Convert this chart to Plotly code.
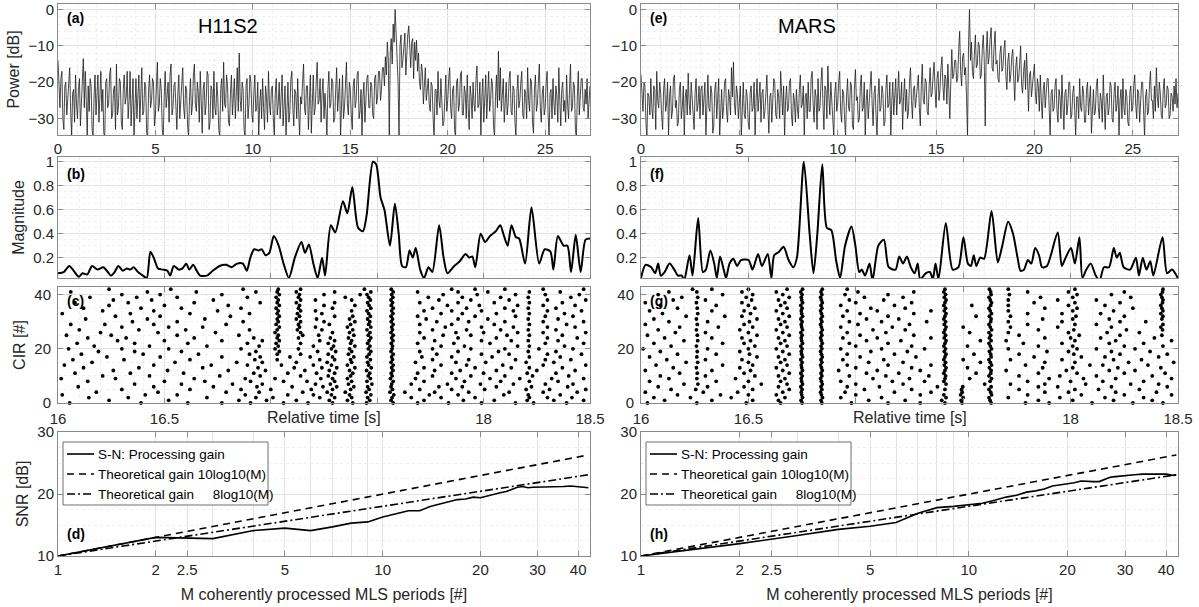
import numpy as np
import plotly.graph_objects as go

# ---------------- DATA ----------------
FREQ_STEP = 0.05  # spectrum sample spacing (x units of panels a/e)

POWER_A = [
    -14, -24, -27, -19, -17, -30, -33, -21, -20, -29, -25, -18, -16, -28, -35, -23, -22, -31, -18, -26,
    -30, -22, -19, -32, -24, -20, -13.5, -27, -17, -25, -35, -21, -28, -19, -21, -33, -35, -24, -18, -29,
    -24, -18, -31, -23, -17, -28, -22, -34, -35, -20, -19, -27, -26, -18, -16, -30, -29, -22, -21, -33,
    -15, -29, -27, -19, -20, -31, -33, -22, -18, -26, -24, -17, -30, -25, -17, -32, -26, -19, -35, -23,
    -19, -30, -23, -18, -31, -25, -16, -29, -28, -20, -21, -34, -35, -22, -18, -27, -25, -19, -20, -32,
    -29, -21, -14.5, -28, -26, -19, -22, -33, -35, -24, -17, -27, -24, -20, -31, -18, -15, -29, -27, -21,
    -20, -28, -33, -23, -18, -30, -25, -19, -16, -27, -30, -21, -22, -32, -35, -24, -19, -29, -26, -18,
    -15, -26, -28, -20, -23, -31, -17, -25, -34, -22, -20, -29, -26, -17, -18, -33, -31, -21, -22, -30,
    -17, -27, -29, -20, -24, -33, -35, -22, -19, -28, -14.5, -26, -27, -18, -21, -31, -32, -23, -18, -29,
    -25, -19, -30, -24, -16, -28, -12, -25, -28, -20, -22, -33, -35, -21, -19, -30, -26, -18, -20, -29,
    -31, -23, -18, -28, -27, -20, -35, -26, -22, -30, -19, -27, -33, -21, -24, -31, -17, -26, -29, -22,
    -21, -30, -35, -23, -19, -29, -26, -20, -30, -24, -18, -32, -25, -21, -35, -27, -20, -31, -28, -19,
    -17, -27, -32, -22, -23, -30, -19, -28, -35, -24, -26, -20, -15, -27, -29, -21, -21, -33, -24, -18,
    -34, -24, -18, -29, -27, -20, -14.5, -26, -25, -19, -31, -23, -19, -30, -23, -28, -35, -22, -17, -27,
    -26, -19, -20, -31, -30, -22, -16, -28, -24, -19, -35, -25, -18, -30, -27, -21, -14.5, -26, -29, -20,
    -22, -29, -33, -21, -19, -27, -25, -18, -17, -30, -28, -22, -35, -24, -20, -31, -24, -19, -18, -27,
    -27, -20, -21, -29, -30, -19, -18, -26, -24, -17, -17, -25, -22, -16, -16, -21, -13, -18, -9, -14,
    -35, -12, -8, -15, -4, -9, 0, -6, -12, -20, -35, -10, -7, -16, -14, -8, -6.5, -18, -10, -7,
    -4.5, -13, -16, -9, -8, -19, -9, -14, -8.5, -17, -12, -20, -22, -15, -17, -26, -20, -16, -25, -21,
    -19, -26, -28, -20, -21, -30, -35, -22, -22, -29, -17, -25, -27, -19, -24, -32, -31, -23, -18, -28,
    -25, -19, -16, -27, -30, -22, -21, -33, -35, -20, -19, -28, -26, -18, -17, -29, -29, -21, -23, -30,
    -18, -27, -33, -21, -24, -30, -20, -26, -28, -19, -15.5, -27, -26, -20, -35, -24, -19, -31, -23, -18,
    -30, -22, -17, -28, -25, -19, -21, -32, -35, -24, -18, -27, -11.5, -25, -16, -28, -24, -19, -31, -23,
    -20, -29, -26, -19, -17, -28, -29, -21, -22, -31, -35, -23, -18, -27, -25, -20, -17, -29, -30, -22,
    -23, -30, -16, -25, -28, -19, -20, -31, -34, -22, -18, -28, -26, -20, -15, -27, -31, -23, -21, -29,
    -27, -20, -17, -29, -35, -23, -22, -30, -19, -26, -29, -21, -24, -31, -16, -25, -32, -22, -20, -28,
    -25, -31, -18, -26, -30, -22, -15, -28, -27, -20, -21, -33, -35, -24, -17, -29, -24, -19, -19, -27,
    -28, -22, -26, -19, -30, -24, -21,
]

POWER_E = [
    -18, -26, -28, -20, -21, -31, -35, -23, -24, -29, -19, -27, -30, -21, -22, -33, -17, -25, -27, -20,
    -23, -29, -33, -22, -19, -28, -26, -20, -35, -24, -21, -30, -28, -19, -18, -27, -25, -32, -31, -22,
    -20, -30, -27, -21, -35, -24, -22, -29, -17.5, -26, -29, -20, -24, -31, -33, -23, -19, -28, -26, -21,
    -30, -22, -21, -29, -25, -20, -35, -26, -18, -27, -28, -21, -23, -34, -32, -22, -20, -30, -26, -19,
    -35, -25, -22, -30, -27, -20, -19, -28, -31, -22, -24, -29, -16, -24, -14.5, -26, -29, -21, -23, -30,
    -26, -21, -35, -24, -20, -29, -30, -22, -24, -31, -33, -23, -21, -28, -27, -20, -35, -25, -19, -28,
    -25, -20, -31, -23, -22, -30, -28, -21, -18, -27, -34, -24, -23, -31, -26, -19, -20, -29, -30, -22,
    -24, -30, -17, -26, -29, -21, -35, -25, -21, -28, -27, -20, -19, -29, -32, -23, -25, -31, -22, -27,
    -30, -22, -18, -27, -26, -21, -35, -24, -23, -30, -20, -28, -28, -19, -17, -26, -31, -22, -24, -33,
    -19, -28, -27, -20, -16, -26, -33, -21, -22, -30, -15.5, -24, -29, -20, -25, -31, -35, -23, -20, -28,
    -26, -20, -17, -28, -31, -22, -23, -30, -35, -24, -19, -27, -28, -20, -21, -32, -33, -22, -16.5, -25,
    -24, -31, -30, -21, -18, -28, -27, -20, -35, -25, -22, -30, -25, -19, -17, -26, -32, -23, -21, -29,
    -35, -24, -19, -28, -27, -21, -23, -32, -31, -22, -18, -27, -26, -20, -35, -25, -20, -29, -24, -19,
    -29, -22, -17, -26, -25, -20, -33, -24, -19, -28, -22, -30, -28, -20, -16, -25, -30, -22, -21, -27,
    -24, -20, -18, -27, -32, -21, -15, -25, -26, -19, -20, -28, -29, -21, -16, -24, -23, -18, -14.5, -22,
    -27, -19, -17, -25, -22, -16, -13, -21, -25, -18, -19, -26, -15, -22, -30, -20, -11, -19, -18, -14,
    -14, -20, -19, -11, -6, -17, -21, -13, -12, -18, -16, -24, -35, -10, 0, -14, -9, -17, -19, -12,
    -7, -16, -15, -9, -10, -19, -18, -11, -7, -14, -32, -12, -6, -15, -13, -8, -5, -16, -17, -10,
    -6, -15, -14, -19, -20, -12, -10, -17, -16, -11, -8.5, -18, -22, -14, -12, -20, -18, -13, -11, -19,
    -25, -16, -13, -20, -19, -15, -10, -21, -23, -17, -14, -22, -12, -19, -28, -18, -17, -24, -20, -16,
    -15, -23, -26, -19, -21, -28, -18, -25, -30, -22, -20, -27, -24, -19, -19, -29, -35, -23, -22, -28,
    -27, -21, -19, -28, -31, -22, -24, -30, -18, -26, -33, -23, -22, -29, -26, -20, -20, -30, -29, -23,
    -21, -28, -35, -24, -24, -30, -19, -27, -28, -21, -23, -31, -31, -22, -20, -29, -26, -21, -34, -25,
    -22, -29, -28, -21, -19, -27, -30, -23, -25, -31, -18, -26, -33, -24, -23, -29, -27, -20, -21, -30,
    -31, -23, -20, -28, -26, -21, -35, -25, -22, -30, -19, -27, -29, -22, -24, -31, -32, -23, -21, -28,
    -27, -21, -18, -26, -30, -22, -23, -31, -26, -20, -20, -28, -35, -24, -22, -29, -28, -21, -17, -25,
    -25, -30, -21, -28, -16, -24, -27, -20, -23, -29, -30, -22, -19, -27, -26, -21, -22, -30, -29, -23,
    -24, -28, -21, -26, -19, -27, -23,
]

# magnitude (b): relative time [s], magnitude
MAG_B_T = [16.000, 16.027, 16.053, 16.074, 16.098, 16.115, 16.138, 16.160, 16.186, 16.213,
           16.234, 16.248, 16.266, 16.284, 16.305, 16.323, 16.340, 16.355, 16.376, 16.399,
           16.417, 16.434, 16.452, 16.470, 16.493, 16.514, 16.527, 16.544, 16.567, 16.585,
           16.603, 16.617, 16.635, 16.652, 16.668, 16.700, 16.727, 16.759, 16.789, 16.816,
           16.842, 16.869, 16.887, 16.904, 16.922, 16.943, 16.957, 16.975, 16.993, 17.014,
           17.037, 17.060, 17.085, 17.113, 17.144, 17.161, 17.179, 17.200, 17.220, 17.241,
           17.255, 17.282, 17.303, 17.339, 17.360, 17.383, 17.410, 17.433, 17.450, 17.480,
           17.495, 17.516, 17.534, 17.560, 17.583, 17.601, 17.617, 17.635, 17.652, 17.667,
           17.681, 17.702, 17.720, 17.741, 17.759, 17.791, 17.812, 17.830, 17.862, 17.888,
           17.915, 17.933, 17.947, 17.961, 17.986, 18.007, 18.030, 18.057, 18.078, 18.096,
           18.113, 18.131, 18.152, 18.167, 18.195, 18.225, 18.261, 18.287, 18.314, 18.328,
           18.349, 18.376, 18.394, 18.411, 18.433, 18.456, 18.479, 18.500]
MAG_B_V = [0.07, 0.08, 0.13, 0.09, 0.04, 0.07, 0.06, 0.13, 0.10, 0.12,
           0.08, 0.05, 0.08, 0.13, 0.09, 0.11, 0.10, 0.12, 0.08, 0.05,
           0.03, 0.25, 0.19, 0.11, 0.10, 0.09, 0.05, 0.13, 0.10, 0.11,
           0.15, 0.10, 0.14, 0.09, 0.05, 0.05, 0.09, 0.13, 0.14, 0.12,
           0.15, 0.15, 0.09, 0.20, 0.27, 0.26, 0.27, 0.22, 0.24, 0.38,
           0.30, 0.15, 0.03, 0.20, 0.33, 0.24, 0.31, 0.15, 0.03, 0.20,
           0.05, 0.47, 0.41, 0.67, 0.57, 0.79, 0.45, 0.42, 0.55, 1.00,
           0.98, 0.70, 0.60, 0.30, 0.65, 0.40, 0.13, 0.12, 0.26, 0.20,
           0.28, 0.10, 0.03, 0.12, 0.08, 0.47, 0.20, 0.07, 0.13, 0.17,
           0.23, 0.20, 0.21, 0.12, 0.40, 0.33, 0.38, 0.42, 0.47, 0.38,
           0.30, 0.47, 0.37, 0.36, 0.15, 0.62, 0.15, 0.27, 0.25, 0.10,
           0.38, 0.30, 0.30, 0.08, 0.39, 0.08, 0.35, 0.36]

# magnitude (f)
MAG_F_T = [16.000, 16.021, 16.048, 16.066, 16.080, 16.092, 16.110, 16.133, 16.155, 16.172,
           16.190, 16.201, 16.226, 16.240, 16.266, 16.288, 16.302, 16.323, 16.341, 16.353,
           16.368, 16.385, 16.396, 16.412, 16.430, 16.448, 16.465, 16.501, 16.519, 16.545,
           16.563, 16.590, 16.607, 16.620, 16.643, 16.664, 16.687, 16.709, 16.726, 16.758,
           16.785, 16.803, 16.821, 16.844, 16.865, 16.886, 16.909, 16.927, 16.950, 16.980,
           16.998, 17.016, 17.028, 17.043, 17.064, 17.078, 17.105, 17.131, 17.153, 17.185,
           17.202, 17.220, 17.238, 17.256, 17.274, 17.288, 17.300, 17.327, 17.345, 17.359,
           17.371, 17.385, 17.419, 17.451, 17.478, 17.501, 17.522, 17.536, 17.549, 17.561,
           17.579, 17.597, 17.632, 17.661, 17.682, 17.709, 17.732, 17.753, 17.767, 17.783,
           17.801, 17.817, 17.835, 17.853, 17.867, 17.890, 17.940, 17.959, 17.977, 18.002,
           18.020, 18.041, 18.055, 18.073, 18.094, 18.117, 18.135, 18.155, 18.179, 18.201,
           18.215, 18.229, 18.247, 18.277, 18.304, 18.318, 18.336, 18.353, 18.371, 18.385,
           18.428, 18.449, 18.472, 18.499]
MAG_F_V = [0.03, 0.14, 0.12, 0.07, 0.15, 0.05, 0.08, 0.15, 0.10, 0.05,
           0.05, 0.01, 0.22, 0.05, 0.53, 0.08, 0.10, 0.26, 0.15, 0.03,
           0.21, 0.10, 0.03, 0.15, 0.19, 0.13, 0.18, 0.18, 0.10, 0.23,
           0.13, 0.23, 0.03, 0.22, 0.25, 0.29, 0.18, 0.12, 0.20, 1.00,
           0.40, 0.07, 0.40, 0.98, 0.45, 0.43, 0.17, 0.03, 0.30, 0.46,
           0.30, 0.08, 0.10, 0.05, 0.15, 0.01, 0.30, 0.35, 0.12, 0.10,
           0.21, 0.15, 0.21, 0.12, 0.07, 0.15, 0.02, 0.07, 0.08, 0.02,
           0.15, 0.02, 0.49, 0.10, 0.12, 0.37, 0.15, 0.13, 0.22, 0.13,
           0.20, 0.19, 0.59, 0.16, 0.30, 0.50, 0.40, 0.20, 0.09, 0.10,
           0.18, 0.15, 0.28, 0.22, 0.12, 0.13, 0.41, 0.13, 0.20, 0.28,
           0.15, 0.37, 0.03, 0.10, 0.15, 0.05, 0.01, 0.12, 0.12, 0.28,
           0.20, 0.24, 0.12, 0.10, 0.20, 0.05, 0.20, 0.10, 0.17, 0.05,
           0.37, 0.07, 0.10, 0.03]

# CIR peak times (ms after 16 s), one list per CIR index 0..42
CIR_C_MS = [
    [55, 390, 610, 770, 905, 1060, 1175, 1290, 1385, 1450, 1575, 1690, 1835, 1990, 2150, 2235, 2390],
    [240, 520, 850, 980, 1120, 1275, 1360, 1465, 1565, 1720, 1905, 2050, 2205, 2330, 2470],
    [145, 330, 700, 930, 1010, 1230, 1300, 1380, 1455, 1570, 1660, 1800, 1960, 2215, 2300, 2415],
    [20, 410, 560, 880, 1080, 1200, 1285, 1370, 1470, 1578, 1745, 1880, 2095, 2210, 2360],
    [180, 470, 790, 945, 1150, 1265, 1350, 1448, 1560, 1630, 1770, 1930, 2120, 2280, 2440],
    [300, 620, 860, 1000, 1190, 1290, 1375, 1462, 1572, 1700, 1850, 2005, 2200, 2310, 2480],
    [95, 450, 730, 935, 1100, 1245, 1310, 1390, 1455, 1565, 1790, 1900, 2060, 2225, 2395],
    [360, 580, 820, 960, 1210, 1280, 1365, 1475, 1568, 1660, 1830, 1985, 2140, 2290, 2420],
    [140, 500, 690, 905, 1060, 1170, 1300, 1380, 1452, 1575, 1720, 1910, 2080, 2215, 2350],
    [15, 270, 640, 880, 1020, 1235, 1290, 1360, 1468, 1562, 1680, 1870, 2030, 2170, 2320, 2470],
    [210, 430, 760, 950, 1140, 1270, 1375, 1458, 1570, 1760, 1940, 2100, 2230, 2400],
    [80, 340, 590, 920, 1080, 1215, 1300, 1385, 1465, 1566, 1690, 1850, 2000, 2205, 2340],
    [260, 515, 800, 975, 1160, 1275, 1370, 1450, 1574, 1770, 1890, 2060, 2250, 2430],
    [120, 380, 680, 940, 1110, 1240, 1310, 1395, 1472, 1568, 1720, 1960, 2130, 2215, 2370],
    [30, 450, 720, 890, 1050, 1200, 1285, 1360, 1460, 1575, 1800, 1920, 2090, 2280, 2480],
    [160, 550, 840, 960, 1120, 1265, 1380, 1455, 1565, 1680, 1870, 2010, 2200, 2330],
    [70, 310, 620, 925, 1030, 1230, 1300, 1375, 1468, 1572, 1760, 1930, 2150, 2290, 2410],
    [230, 480, 770, 950, 1090, 1185, 1290, 1390, 1452, 1568, 1710, 1850, 2040, 2215, 2360],
    [110, 400, 660, 900, 1030, 1140, 1270, 1365, 1462, 1575, 1780, 1990, 2120, 2300, 2460],
    [190, 360, 580, 930, 1040, 1220, 1305, 1380, 1470, 1565, 1700, 1880, 2070, 2210, 2340],
    [50, 300, 520, 860, 1020, 1130, 1285, 1370, 1458, 1570, 1760, 1940, 2100, 2260, 2420],
    [170, 430, 700, 945, 1035, 1200, 1295, 1395, 1466, 1572, 1800, 1910, 2160, 2215, 2380],
    [90, 360, 610, 890, 1025, 1140, 1270, 1375, 1455, 1566, 1690, 1860, 2030, 2290, 2470],
    [280, 500, 770, 960, 1040, 1230, 1300, 1380, 1462, 1574, 1770, 1990, 2130, 2210, 2350],
    [140, 320, 640, 920, 1030, 1130, 1280, 1365, 1470, 1568, 1720, 1880, 2060, 2300, 2440],
    [40, 250, 560, 850, 1035, 1150, 1225, 1390, 1458, 1575, 1810, 1940, 2110, 2215, 2370],
    [200, 470, 740, 1020, 1140, 1290, 1370, 1466, 1565, 1700, 1870, 2000, 2160, 2280, 2480],
    [100, 380, 600, 900, 1030, 1125, 1240, 1385, 1452, 1572, 1760, 1920, 2080, 2210, 2340],
    [300, 520, 680, 1040, 1135, 1210, 1360, 1470, 1568, 1820, 1990, 2140, 2300, 2430],
    [60, 220, 450, 790, 1025, 1130, 1275, 1375, 1460, 1575, 1700, 1850, 2050, 2215, 2390],
    [350, 560, 870, 1035, 1140, 1250, 1395, 1465, 1566, 1780, 1930, 2100, 2280, 2470],
    [130, 420, 690, 1030, 1120, 1215, 1370, 1455, 1572, 1730, 1880, 2020, 2210, 2350],
    [270, 480, 810, 1040, 1135, 1300, 1385, 1468, 1565, 1690, 1960, 2150, 2290, 2420],
    [20, 340, 620, 900, 1030, 1125, 1240, 1460, 1574, 1800, 1900, 2060, 2215, 2380],
    [210, 450, 750, 1035, 1140, 1210, 1380, 1452, 1568, 1720, 1850, 1990, 2140, 2300, 2460],
    [120, 390, 580, 860, 1025, 1130, 1290, 1470, 1575, 1760, 1920, 2100, 2210, 2340],
    [240, 500, 800, 1040, 1135, 1250, 1395, 1462, 1566, 1830, 1980, 2160, 2280, 2430],
    [80, 330, 640, 950, 1030, 1120, 1300, 1455, 1572, 1700, 1880, 2050, 2215, 2370],
    [260, 440, 730, 1035, 1140, 1210, 1380, 1468, 1565, 1790, 1940, 2120, 2300, 2480],
    [150, 370, 560, 890, 1025, 1130, 1350, 1460, 1574, 1740, 1900, 2080, 2210, 2410],
    [300, 480, 770, 1040, 1135, 1250, 1420, 1452, 1568, 1810, 1970, 2150, 2290, 2450],
    [60, 420, 650, 930, 1030, 1120, 1300, 1470, 1575, 1690, 1880, 2020, 2215, 2360],
    [240, 530, 870, 1035, 1140, 1440, 1566, 1850, 1960, 2100, 2280, 2470],
]

CIR_G_MS = [
    [30, 260, 490, 650, 750, 842, 980, 1150, 1300, 1415, 1495, 1630, 1790, 1900, 2100, 2290, 2430],
    [110, 330, 520, 640, 745, 838, 1060, 1230, 1400, 1490, 1625, 1850, 2010, 2200, 2380],
    [60, 230, 420, 670, 752, 845, 930, 1120, 1420, 1500, 1620, 1710, 1950, 2160, 2340],
    [170, 370, 500, 630, 748, 840, 1000, 1300, 1410, 1488, 1632, 1800, 2050, 2250, 2470],
    [20, 290, 450, 660, 746, 836, 950, 1180, 1350, 1495, 1628, 1880, 1990, 2210, 2400],
    [140, 255, 520, 690, 750, 842, 1040, 1260, 1415, 1492, 1620, 1760, 2020, 2130, 2320],
    [80, 310, 480, 640, 744, 838, 960, 1110, 1380, 1498, 1630, 1850, 1940, 2190, 2450],
    [200, 265, 560, 680, 752, 844, 1000, 1220, 1420, 1600, 1720, 1880, 2070, 2280, 2410],
    [40, 350, 500, 650, 748, 840, 930, 1170, 1320, 1410, 1625, 1800, 2000, 2150, 2340],
    [130, 260, 440, 670, 746, 836, 1080, 1250, 1415, 1530, 1632, 1900, 2060, 2210, 2470],
    [90, 300, 530, 640, 750, 842, 970, 1140, 1340, 1418, 1620, 1760, 1950, 2120, 2380],
    [180, 262, 480, 690, 744, 838, 1050, 1200, 1410, 1560, 1628, 1850, 2030, 2250, 2440],
    [20, 330, 510, 660, 752, 844, 920, 1100, 1300, 1415, 1630, 1700, 1980, 2180, 2300],
    [150, 258, 460, 630, 748, 840, 1000, 1260, 1420, 1520, 1622, 1870, 2010, 2220, 2420],
    [70, 380, 520, 680, 746, 836, 960, 1150, 1350, 1412, 1632, 1790, 2090, 2150, 2360],
    [210, 264, 500, 650, 750, 842, 1060, 1220, 1418, 1580, 1626, 1880, 2020, 2270, 2480],
    [120, 300, 470, 670, 744, 838, 940, 1130, 1410, 1500, 1620, 1720, 1960, 2200, 2330],
    [40, 260, 540, 640, 752, 844, 1020, 1280, 1415, 1630, 1830, 2050, 2160, 2410],
    [170, 350, 505, 690, 748, 840, 960, 1180, 1420, 1550, 1628, 1760, 2015, 2230, 2450],
    [90, 262, 460, 660, 746, 836, 1070, 1240, 1412, 1622, 1890, 1990, 2190, 2370],
    [10, 310, 500, 630, 750, 842, 930, 1120, 1320, 1418, 1632, 1710, 2030, 2120, 2300],
    [140, 258, 530, 680, 744, 838, 1000, 1260, 1410, 1520, 1626, 1850, 2010, 2250, 2430],
    [60, 380, 480, 650, 752, 844, 970, 1150, 1415, 1620, 1780, 1960, 2180, 2340],
    [200, 264, 510, 670, 748, 840, 1050, 1210, 1420, 1580, 1630, 1700, 2020, 2210, 2470],
    [110, 330, 470, 640, 746, 836, 940, 1100, 1350, 1412, 1622, 1880, 2000, 2140, 2390],
    [30, 262, 540, 690, 750, 842, 1020, 1270, 1418, 1628, 1760, 2040, 2230, 2425],
    [160, 300, 500, 660, 744, 838, 960, 1140, 1410, 1530, 1620, 1710, 1990, 2170, 2320],
    [80, 258, 460, 630, 752, 844, 1080, 1230, 1415, 1632, 1850, 2015, 2260, 2428],
    [180, 360, 520, 680, 748, 840, 930, 1170, 1420, 1500, 1626, 1720, 1940, 2190, 2420],
    [20, 262, 480, 650, 746, 836, 1010, 1250, 1412, 1620, 1800, 2020, 2120, 2430],
    [130, 310, 505, 670, 750, 842, 970, 1120, 1330, 1418, 1628, 1710, 1960, 2230, 2350],
    [60, 258, 540, 640, 744, 838, 1050, 1200, 1410, 1630, 1870, 2010, 2180, 2425],
    [210, 390, 470, 690, 752, 844, 940, 1150, 1415, 1560, 1622, 1720, 2025, 2250, 2430],
    [100, 264, 510, 660, 748, 840, 1020, 1270, 1420, 1632, 1800, 1960, 2140, 2420],
    [40, 330, 480, 630, 746, 836, 960, 1100, 1350, 1412, 1626, 1710, 2010, 2200, 2430],
    [170, 262, 530, 680, 750, 842, 1070, 1230, 1418, 1620, 1880, 2030, 2290, 2425],
    [90, 350, 500, 650, 744, 838, 930, 1180, 1410, 1540, 1628, 1710, 1990, 2160, 2420],
    [20, 258, 470, 670, 752, 844, 1000, 1260, 1415, 1632, 1830, 2020, 2230, 2428],
    [150, 300, 515, 640, 748, 840, 970, 1130, 1420, 1626, 1710, 1940, 2120, 2430],
    [190, 264, 490, 690, 746, 836, 1040, 1220, 1412, 1620, 1860, 2010, 2280, 2425],
    [80, 380, 520, 660, 750, 842, 950, 1150, 1418, 1630, 1715, 2030, 2190, 2420],
    [130, 260, 470, 630, 744, 838, 1010, 1270, 1410, 1628, 1800, 1990, 2250, 2428],
    [240, 330, 500, 680, 752, 844, 960, 1415, 1622, 1710, 2020, 2430],
]

# SNR vs M
M_PERIODS = [1, 2, 3, 4, 5, 6, 7, 8, 9, 10, 11, 12, 13, 14, 15, 16, 17, 18, 19, 20,
             21, 22, 23, 24, 25, 26, 27, 28, 29, 30, 32, 34, 36, 38, 40, 42, 43]
SNR_D = [10.0, 13.0, 12.8, 14.1, 14.5, 14.1, 14.7, 15.3, 15.5, 16.3, 16.8, 17.3, 17.3, 18.0,
         18.4, 18.8, 19.1, 19.2, 19.5, 19.4, 19.7, 20.0, 20.2, 20.4, 20.8, 21.1, 21.2, 21.0,
         21.1, 21.1, 21.1, 21.2, 21.2, 21.3, 21.2, 21.0, 21.0]
SNR_H = [10.0, 12.0, 13.3, 14.3, 14.8, 15.4, 16.9, 17.8, 18.0, 18.2, 18.5, 19.0, 19.5, 19.8,
         20.3, 20.5, 20.8, 21.3, 21.5, 21.6, 21.8, 22.1, 22.0, 22.0, 22.0, 22.3, 22.7, 22.8,
         22.9, 23.0, 23.1, 23.2, 23.2, 23.2, 23.2, 23.0, 23.1]
M_THEORY = [1, 43]
GAIN_10 = [10.0, 26.3]
GAIN_8 = [10.0, 23.1]

LEGEND_NAMES = ["S-N: Processing gain",
                "Theoretical gain 10log10(M)",
                "Theoretical gain \u2007\u20078log10(M)"]

# ---------------- FIGURE ----------------
W, H = 1199, 607
FONT = "Liberation Sans, Arial, sans-serif"
TXT = "#262626"
AXC = "#8a8a8a"
GRID = "#e2e2e2"
MINOR = "#eeeeee"

LX_PX = (58, 590)
RX_PX = (641, 1178)
LX = [LX_PX[0] / W, LX_PX[1] / W]
RX = [RX_PX[0] / W, RX_PX[1] / W]
ROW_PX = [(4, 135), (157, 278), (287, 403), (432, 556)]


def ydom(top, bot):
    return [1 - bot / H, 1 - top / H]


ROWS = [ydom(*p) for p in ROW_PX]

DASH_10 = "7px,5px"
DASH_8 = "8px,3px,2px,3px"

fig = go.Figure()


def suffix(k):
    return "" if k == 1 else str(k)


def add_power(k, vals):
    x = FREQ_STEP * np.arange(len(vals))
    fig.add_trace(go.Scatter(x=x, y=vals, mode="lines", line=dict(color="#1c1c1c", width=0.8),
                             xaxis="x" + suffix(k), yaxis="y" + suffix(k), showlegend=False,
                             hoverinfo="skip"))


def add_mag(k, t, v):
    fig.add_trace(go.Scatter(x=t, y=v, mode="lines",
                             line=dict(color="black", width=2, shape="spline", smoothing=0.7),
                             xaxis="x" + suffix(k), yaxis="y" + suffix(k), showlegend=False))


def add_cir(k, rows):
    xs, ys = [], []
    for idx, row in enumerate(rows):
        for ms in row:
            xs.append(16 + ms / 1000.0)
            ys.append(idx)
    fig.add_trace(go.Scatter(x=xs, y=ys, mode="markers", cliponaxis=False,
                             marker=dict(color="black", size=3.8, line=dict(width=0)),
                             xaxis="x" + suffix(k), yaxis="y" + suffix(k), showlegend=False))


def add_snr(k, snr):
    common = dict(mode="lines", xaxis="x" + suffix(k), yaxis="y" + suffix(k), showlegend=False)
    fig.add_trace(go.Scatter(x=M_PERIODS, y=snr, name=LEGEND_NAMES[0],
                             line=dict(color="black", width=1.6), **common))
    fig.add_trace(go.Scatter(x=M_THEORY, y=GAIN_10, name=LEGEND_NAMES[1],
                             line=dict(color="black", width=1.6, dash=DASH_10), **common))
    fig.add_trace(go.Scatter(x=M_THEORY, y=GAIN_8, name=LEGEND_NAMES[2],
                             line=dict(color="black", width=1.6, dash=DASH_8), **common))


add_power(1, POWER_A)
add_mag(2, MAG_B_T, MAG_B_V)
add_cir(3, CIR_C_MS)
add_snr(4, SNR_D)
add_power(5, POWER_E)
add_mag(6, MAG_F_T, MAG_F_V)
add_cir(7, CIR_G_MS)
add_snr(8, SNR_H)


def base_axis(domain, anchor):
    return dict(domain=domain, anchor=anchor, showline=True, linecolor=AXC, linewidth=1,
                mirror="ticks", ticks="inside", ticklen=5, tickcolor=AXC,
                showgrid=True, gridcolor=GRID, gridwidth=1, zeroline=False,
                tickfont=dict(family=FONT, size=15, color=TXT), automargin=False)


layout = {}
for col, XD in enumerate([LX, RX]):
    for r in range(4):
        k = col * 4 + r + 1
        s = suffix(k)
        xa = base_axis(XD, "y" + s)
        ya = base_axis(ROWS[r], "x" + s)
        if r == 0:
            xa.update(range=[0, 27.3], tickvals=[0, 5, 10, 15, 20, 25],
                      minor=dict(dtick=1, showgrid=True, gridcolor=MINOR, griddash="dot"))
            ya.update(range=[-34.5, 1.5], tickvals=[-30, -20, -10, 0],
                      minor=dict(dtick=2, showgrid=True, gridcolor=MINOR, griddash="dot"))
        elif r == 1:
            xa.update(range=[16, 18.5], tickvals=[16, 16.5, 17, 17.5, 18, 18.5], showticklabels=False,
                      minor=dict(dtick=0.1, showgrid=True, gridcolor=MINOR, griddash="dot"))
            ya.update(range=[0.03, 1.04], tickvals=[0.2, 0.4, 0.6, 0.8, 1.0],
                      ticktext=["0.2", "0.4", "0.6", "0.8", "1"],
                      minor=dict(dtick=0.05, showgrid=True, gridcolor=MINOR, griddash="dot"))
        elif r == 2:
            xa.update(range=[16, 18.5], tickvals=[16, 16.5, 17, 17.5, 18, 18.5],
                      ticktext=["16", "16.5", "", "", "18", "18.5"], ticklabelstandoff=2,
                      minor=dict(dtick=0.1, showgrid=True, gridcolor=MINOR, griddash="dot"))
            ya.update(range=[0, 42.8], tickvals=[0, 20, 40], ticklabelstandoff=3,
                      minor=dict(dtick=5, showgrid=True, gridcolor=MINOR, griddash="dot"))
        else:
            xa.update(type="log", range=[0, np.log10(43.5)],
                      tickvals=[1, 2, 2.5, 5, 10, 20, 30, 40],
                      ticktext=["1", "2", "2.5", "5", "10", "20", "30", "40"],
                      minor=dict(tickvals=[3, 4, 6, 7, 8, 9], showgrid=True, gridcolor=GRID,
                                 ticks=""),
                      title=dict(text="M coherently processed MLS periods [#]",
                                 font=dict(family=FONT, size=16, color=TXT), standoff=11))
            ya.update(range=[10, 30], tickvals=[10, 20, 30],
                      minor=dict(dtick=2.5, showgrid=True, gridcolor=MINOR, griddash="dot"))
        if col == 0:
            ytitle = ["Power [dB]", "Magnitude", "CIR [#]", "SNR [dB]"][r]
            ya.update(title=dict(text=ytitle, font=dict(family=FONT, size=16, color=TXT), standoff=4))
        layout["xaxis" + s] = xa
        layout["yaxis" + s] = ya

fig.update_layout(**layout)

ann = []
shapes = []
label_pos = [0.89, 0.86, 0.88, 0.18]
for col in range(2):
    for r in range(4):
        k = col * 4 + r + 1
        s = suffix(k)
        ann.append(dict(text="<b>(%s)</b>" % "abcdefgh"[k - 1], xref="x%s domain" % s,
                        yref="y%s domain" % s, x=0.013, y=label_pos[r], xanchor="left",
                        yanchor="middle", showarrow=False,
                        font=dict(family=FONT, size=14, color="black")))
ann.append(dict(text="H11S2", xref="x domain", yref="y domain", x=0.32, y=0.83,
                xanchor="center", yanchor="middle",
                showarrow=False, font=dict(family=FONT, size=20, color="black")))
ann.append(dict(text="MARS", xref="x5 domain", yref="y5 domain", x=0.31, y=0.83,
                xanchor="center", yanchor="middle",
                showarrow=False, font=dict(family=FONT, size=20, color="black")))
for s in ["3", "7"]:
    ann.append(dict(text="Relative time [s]", xref="x" + s, yref="y%s domain" % s,
                    x=17.25, y=0, xanchor="center", yanchor="top", yshift=-4, showarrow=False,
                    font=dict(family=FONT, size=16, color=TXT)))


# hand-drawn legend boxes (MATLAB style) in panels (d) and (h)
def px_x(v):
    return v / W


def px_y(v):
    return 1 - v / H


LEG_TOP = ROW_PX[3][0] + 10
LEG_H = 63
for x0 in (LX_PX[0] + 5, RX_PX[0] + 5):
    shapes.append(dict(type="rect", xref="paper", yref="paper",
                       x0=px_x(x0), x1=px_x(x0 + 205), y0=px_y(LEG_TOP + LEG_H), y1=px_y(LEG_TOP),
                       line=dict(color="#6e6e6e", width=1), fillcolor="white", layer="above"))
    for i, dash in enumerate(["solid", DASH_10, DASH_8]):
        yy = LEG_TOP + 12 + 20 * i
        shapes.append(dict(type="line", xref="paper", yref="paper",
                           x0=px_x(x0 + 4), x1=px_x(x0 + 31), y0=px_y(yy), y1=px_y(yy),
                           line=dict(color="black", width=1.6, dash=dash), layer="above"))
        ann.append(dict(text=LEGEND_NAMES[i], xref="paper", yref="paper",
                        x=px_x(x0 + 33), y=px_y(yy), xanchor="left", yanchor="middle",
                        showarrow=False, font=dict(family=FONT, size=13.5, color="black")))

fig.update_layout(
    width=W, height=H,
    margin=dict(l=0, r=0, t=0, b=0),
    paper_bgcolor="white", plot_bgcolor="white",
    font=dict(family=FONT, color=TXT),
    annotations=ann,
    shapes=shapes,
    showlegend=False,
)

fig.write_html("out.html",
               config={"displayModeBar": False, "staticPlot": True},
               post_script="document.body.style.margin='0px';document.body.style.overflow='hidden';")
